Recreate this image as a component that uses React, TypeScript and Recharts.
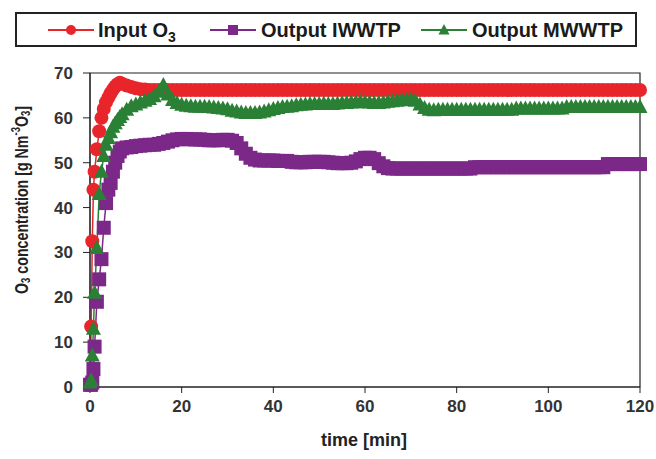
import { Line, LineChart, ReferenceArea, XAxis, YAxis } from "recharts";

const RED = "#e8252a";
const PURPLE = "#7b2888";
const GREEN = "#2a8035";

// time [min] – finer steps during the start-up, then one reading per minute
const times = [
  0, 0.25, 0.5, 0.75, 1, 1.5, 2, 2.5, 3, 3.5, 4, 4.5, 5, 5.5, 6, 6.5, 7,
  8, 9, 10, 11, 12, 13, 14, 15, 16, 17,
  18, 19, 20, 21, 22, 23, 24, 25, 26, 27,
  28, 29, 30, 31, 32, 33, 34, 35, 36, 37,
  38, 39, 40, 41, 42, 43, 44, 45, 46, 47,
  48, 49, 50, 51, 52, 53, 54, 55, 56, 57,
  58, 59, 60, 61, 62, 63, 64, 65, 66, 67,
  68, 69, 70, 71, 72, 73, 74, 75, 76, 77,
  78, 79, 80, 81, 82, 83, 84, 85, 86, 87,
  88, 89, 90, 91, 92, 93, 94, 95, 96, 97,
  98, 99, 100, 101, 102, 103, 104, 105, 106, 107,
  108, 109, 110, 111, 112, 113, 114, 115, 116, 117,
  118, 119, 120,
];

const inputO3 = [
  0.5, 13.5, 32.5, 44, 48, 53, 57, 60, 62, 63.5, 64.5, 65.5, 66.3, 67, 67.5, 67.8, 67.6,
  67.2, 66.9, 66.6, 66.4, 66.3, 66.2, 66.2, 66.2, 66.2, 66.2,
  66.2, 66.2, 66.2, 66.2, 66.2, 66.2, 66.2, 66.2, 66.2, 66.2,
  66.2, 66.2, 66.2, 66.2, 66.2, 66.2, 66.2, 66.2, 66.2, 66.2,
  66.2, 66.2, 66.2, 66.2, 66.2, 66.2, 66.2, 66.2, 66.2, 66.2,
  66.2, 66.2, 66.2, 66.2, 66.2, 66.2, 66.2, 66.2, 66.2, 66.2,
  66.2, 66.2, 66.2, 66.2, 66.2, 66.2, 66.2, 66.2, 66.2, 66.2,
  66.2, 66.2, 66.2, 66.2, 66.2, 66.2, 66.2, 66.2, 66.2, 66.2,
  66.2, 66.2, 66.2, 66.2, 66.2, 66.2, 66.2, 66.2, 66.2, 66.2,
  66.2, 66.2, 66.2, 66.2, 66.2, 66.2, 66.2, 66.2, 66.2, 66.2,
  66.2, 66.2, 66.2, 66.2, 66.2, 66.2, 66.2, 66.2, 66.2, 66.2,
  66.2, 66.2, 66.2, 66.2, 66.2, 66.2, 66.2, 66.2, 66.2, 66.2,
  66.2, 66.2, 66.2,
];

const outputIWWTP = [
  0.5, 0.5, 1, 4, 9, 19, 24, 28.5, 35.5, 41, 44, 45.5, 48, 50, 51.5, 52.5, 53.2,
  53.4, 53.5, 53.7, 53.8, 53.9, 54, 54, 54.2, 54.4, 54.7,
  55, 55.2, 55.3, 55.3, 55.2, 55.2, 55.2, 55.1, 55, 55,
  55, 55.1, 55.1, 54.9, 54.4, 53.2, 52, 51.1, 50.7, 50.5,
  50.5, 50.5, 50.5, 50.4, 50.4, 50.4, 50.2, 50.1, 50.1, 50.1,
  50.2, 50.2, 50.2, 50.2, 50.1, 50, 49.9, 49.9, 49.9, 50,
  50.3, 50.8, 51.1, 51.1, 50.8, 49.9, 49.2, 48.8, 48.7, 48.7,
  48.7, 48.7, 48.7, 48.7, 48.7, 48.7, 48.7, 48.7, 48.7, 48.7,
  48.7, 48.7, 48.7, 48.7, 48.7, 48.7, 49, 49, 49, 49,
  49, 49, 49, 49, 49, 49, 49, 49, 49, 49,
  49, 49, 49, 49, 49, 49, 49, 49, 49, 49,
  49, 49, 49, 49, 49, 49.7, 49.7, 49.7, 49.7, 49.7,
  49.7, 49.7, 49.7,
];

const outputMWWTP = [
  1, 1.5, 7, 13, 21, 31, 43, 48, 51.5, 54, 55.5, 56.8, 58, 58.8, 59.5, 60.2, 60.8,
  61.8, 62.6, 63, 63.4, 63.8, 64.2, 64.8, 65.8, 67.3, 65.2,
  64, 63.3, 62.9, 62.7, 62.6, 62.5, 62.5, 62.5, 62.4, 62.3,
  62.2, 62.1, 61.9, 61.6, 61.4, 61.2, 61.1, 61.1, 61.1, 61.2,
  61.4, 61.7, 62, 62.2, 62.4, 62.5, 62.6, 62.8, 62.9, 63,
  63.1, 63.1, 63.1, 63.2, 63.1, 63.1, 63.2, 63.3, 63.3, 63.4,
  63.5, 63.6, 63.5, 63.4, 63.3, 63.3, 63.4, 63.6, 63.7, 63.8,
  63.9, 64, 64.1, 63.8, 63, 62.2, 61.8, 61.7, 61.8, 61.8,
  61.8, 61.8, 61.8, 61.8, 61.8, 61.8, 61.8, 61.8, 61.8, 61.8,
  61.8, 61.8, 61.8, 61.8, 61.8, 62.1, 62.1, 62.1, 62.1, 62.1,
  62.1, 62.1, 62.1, 62.1, 62.1, 62.1, 62.4, 62.4, 62.4, 62.4,
  62.4, 62.4, 62.4, 62.4, 62.4, 62.4, 62.4, 62.4, 62.4, 62.4,
  62.4, 62.4, 62.4,
];

const xTicks = [0, 20, 40, 60, 80, 100, 120];
const yTicks = [0, 10, 20, 30, 40, 50, 60, 70];

const rows = times.map((t, i) => ({
  t,
  input: inputO3[i],
  iwwtp: outputIWWTP[i],
  mwwtp: outputMWWTP[i],
}));

const FONT = "'Liberation Sans', Arial, sans-serif";
const tickStyle = { fontSize: 17, fontWeight: 700, fill: "#333", fontFamily: FONT };

function CircleDot(p: any) {
  if (p.cx == null || p.cy == null) return <g key={p.index} />;
  return <circle key={p.index} cx={p.cx} cy={p.cy} r={7} fill={RED} />;
}

function SquareDot(p: any) {
  if (p.cx == null || p.cy == null) return <g key={p.index} />;
  return <rect key={p.index} x={p.cx - 7} y={p.cy - 7} width={14} height={14} fill={PURPLE} />;
}

function TriangleDot(p: any) {
  if (p.cx == null || p.cy == null) return <g key={p.index} />;
  const { cx, cy } = p;
  return (
    <polygon
      key={p.index}
      points={`${cx},${cy - 8} ${cx - 7.5},${cy + 6} ${cx + 7.5},${cy + 6}`}
      fill={GREEN}
    />
  );
}

function LegendMark({ color, kind }: { color: string; kind: string }) {
  return (
    <svg width={46} height={16} style={{ display: "block" }}>
      <line x1={0} y1={8} x2={46} y2={8} stroke={color} strokeWidth={2} />
      {kind === "circle" && <circle cx={23} cy={8} r={5} fill={color} />}
      {kind === "square" && <rect x={18} y={3} width={10} height={10} fill={color} />}
      {kind === "triangle" && <polygon points="23,2 17.5,12.5 28.5,12.5" fill={color} />}
    </svg>
  );
}

const legendText: React.CSSProperties = {
  position: "absolute",
  top: 18,
  fontSize: 20,
  fontWeight: 700,
  lineHeight: "24px",
  color: "#1a1a1a",
  whiteSpace: "nowrap",
};

export default function App() {
  return (
    <div
      style={{
        position: "absolute",
        left: 0,
        top: 0,
        width: 656,
        height: 459,
        background: "#fff",
        fontFamily: FONT,
      }}
    >
      <div
        style={{
          position: "absolute",
          left: 15,
          top: 12,
          width: 618,
          height: 31,
          border: "2px solid #222",
        }}
      />
      <div style={{ position: "absolute", left: 48, top: 22 }}>
        <LegendMark color={RED} kind="circle" />
      </div>
      <div style={{ ...legendText, left: 98 }}>
        Input O<span style={{ fontSize: 14, verticalAlign: -5 }}>3</span>
      </div>
      <div style={{ position: "absolute", left: 210, top: 22 }}>
        <LegendMark color={PURPLE} kind="square" />
      </div>
      <div style={{ ...legendText, left: 261 }}>Output IWWTP</div>
      <div style={{ position: "absolute", left: 421, top: 22 }}>
        <LegendMark color={GREEN} kind="triangle" />
      </div>
      <div style={{ ...legendText, left: 472 }}>Output MWWTP</div>

      <LineChart
        width={656}
        height={459}
        data={rows}
        margin={{ top: 73, right: 16, left: 0, bottom: 0 }}
      >
        <XAxis
          dataKey="t"
          type="number"
          domain={[0, 120]}
          ticks={xTicks}
          height={72}
          tickSize={6}
          tickMargin={7}
          stroke="#222"
          tick={tickStyle}
          label={{
            content: () => (
              <text
                x={364}
                y={440}
                textAnchor="middle"
                dominantBaseline="central"
                fontSize={18}
                fontWeight={700}
                fill="#222"
                fontFamily={FONT}
              >
                time [min]
              </text>
            ),
          }}
        />
        <YAxis
          type="number"
          domain={[0, 70]}
          ticks={yTicks}
          width={90}
          tickSize={7}
          tickMargin={10}
          stroke="#222"
          tick={tickStyle}
          label={{
            content: () => (
              <text
                x={22}
                y={200}
                transform="rotate(-90, 22, 200)"
                textAnchor="middle"
                dominantBaseline="central"
                fontSize={18}
                fontWeight={700}
                fill="#222"
                fontFamily={FONT}
                textLength={188}
                lengthAdjust="spacingAndGlyphs"
              >
                O<tspan dy={4} fontSize={12}>3</tspan>
                <tspan dy={-4}> concentration [g Nm</tspan>
                <tspan dy={-6} fontSize={12}>-3</tspan>
                <tspan dy={6}>O</tspan>
                <tspan dy={4} fontSize={12}>3</tspan>
                <tspan dy={-4}>]</tspan>
              </text>
            ),
          }}
        />
        <ReferenceArea x1={0} x2={120} y1={0} y2={70} fill="none" stroke="#222" strokeWidth={1.2} />
        <Line
          dataKey="input"
          stroke={RED}
          strokeWidth={1.5}
          dot={CircleDot}
          isAnimationActive={false}
        />
        <Line
          dataKey="iwwtp"
          stroke={PURPLE}
          strokeWidth={1.5}
          dot={SquareDot}
          isAnimationActive={false}
        />
        <Line
          dataKey="mwwtp"
          stroke={GREEN}
          strokeWidth={1.5}
          dot={TriangleDot}
          isAnimationActive={false}
        />
      </LineChart>
    </div>
  );
}
